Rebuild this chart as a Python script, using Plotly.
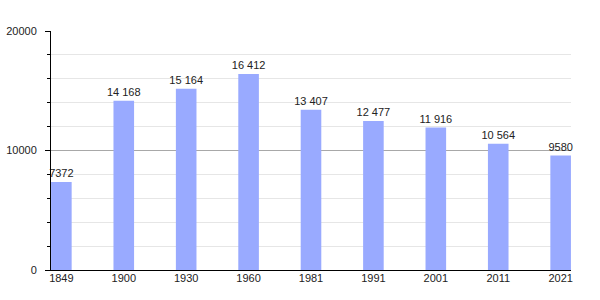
import plotly.graph_objects as go

years = ["1849", "1900", "1930", "1960", "1981", "1991", "2001", "2011", "2021"]
population = [7372, 14168, 15164, 16412, 13407, 12477, 11916, 10564, 9580]
labels = ["7372", "14 168", "15 164", "16 412", "13 407", "12 477", "11 916", "10 564", "9580"]
y_ticks = [0, 10000, 20000]

xpos = list(range(len(years)))

fig = go.Figure()
fig.add_trace(go.Bar(
    x=xpos, y=population, text=labels, textposition="outside",
    constraintext="none",
    textfont=dict(family="Liberation Sans, Arial, sans-serif", size=11, color="#222"),
    marker=dict(color="#99aaff", line=dict(width=0)),
    width=0.33, cliponaxis=False, hoverinfo="skip",
))

fig.update_layout(
    width=600, height=300,
    margin=dict(l=51, r=29, t=31, b=30),
    paper_bgcolor="white", plot_bgcolor="white",
    showlegend=False,
    font=dict(family="Liberation Sans, Arial, sans-serif", size=11, color="#222"),
)
fig.update_xaxes(
    range=[-0.166, 8.166], tickmode="array", tickvals=xpos, ticktext=years,
    showgrid=False, zeroline=False, showline=True, linecolor="black", linewidth=1,
    ticks="", tickfont=dict(size=11, color="#222"), ticklabelstandoff=-2,
    automargin=False,
)
fig.update_yaxes(
    range=[0, 20000], tickmode="array", tickvals=y_ticks, tickformat="d",
    showgrid=True, gridcolor="#a8a8a8", gridwidth=1,
    zeroline=False, showline=True, linecolor="black", linewidth=1,
    ticks="outside", ticklen=5, tickcolor="black",
    tickfont=dict(size=11, color="#222"), ticklabelstandoff=6,
    automargin=False,
    minor=dict(dtick=2000, showgrid=True, gridcolor="#e6e6e6", gridwidth=1,
               ticks="outside", ticklen=3, tickcolor="black"),
)

fig.write_html("out.html")
